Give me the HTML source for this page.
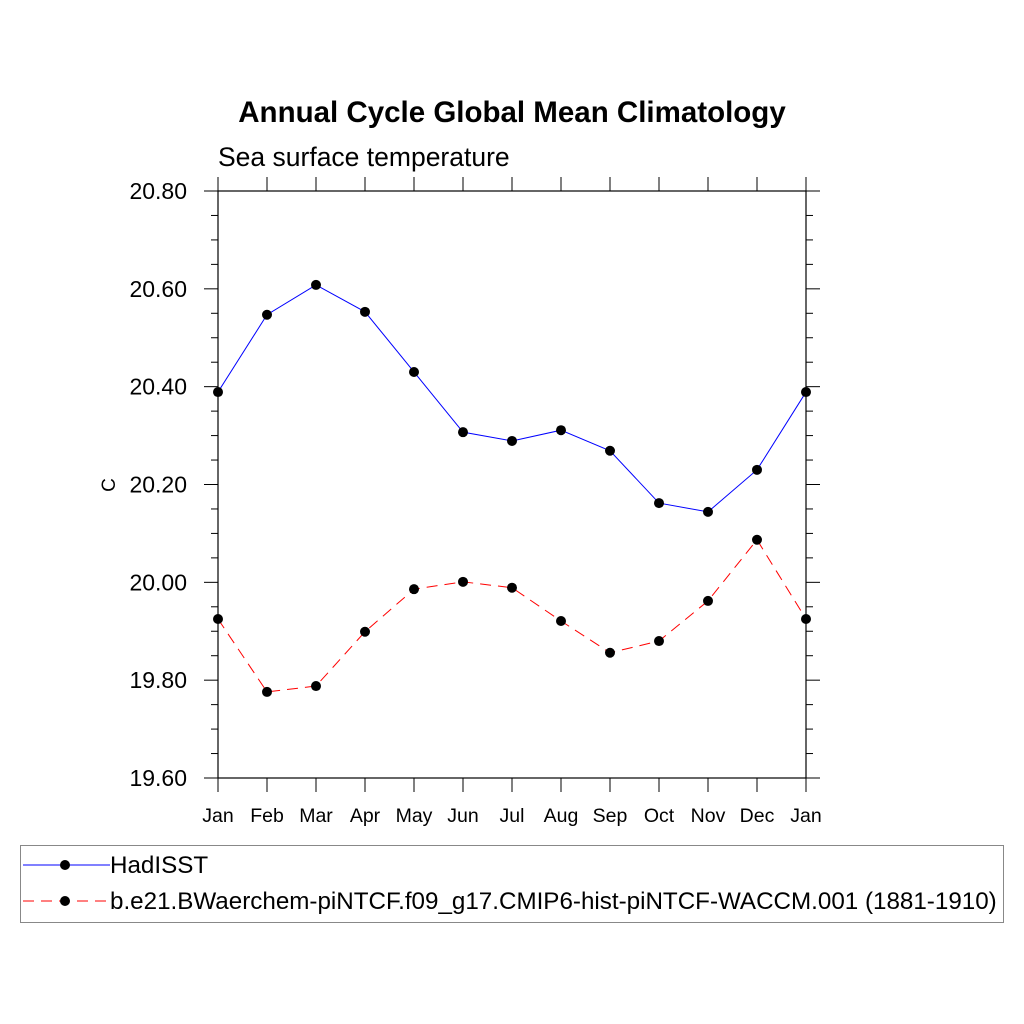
<!DOCTYPE html>
<html><head><meta charset="utf-8"><style>body{margin:0;background:#fff}svg{display:block}</style></head>
<body>
<svg id="chart" width="1024" height="1024" xmlns="http://www.w3.org/2000/svg" font-family="Liberation Sans, sans-serif">
<rect width="1024" height="1024" fill="#fff"/>
<text x="512" y="122" text-anchor="middle" font-size="29.5" font-weight="bold">Annual Cycle Global Mean Climatology</text>
<text x="218" y="166" font-size="26.5">Sea surface temperature</text>
<text transform="translate(115,485) rotate(-90)" text-anchor="middle" font-size="19">C</text>
<g id="axes"></g>
<g id="series"></g>
<g>
<rect x="20.5" y="845.5" width="983" height="77" fill="none" stroke="#888" stroke-width="1"/>
<line x1="23" y1="865" x2="110" y2="865" stroke="#0000ff" stroke-width="1"/>
<circle cx="65" cy="865" r="5" fill="#000"/>
<text x="110" y="873" font-size="24.2">HadISST</text>
<line x1="23" y1="901" x2="110" y2="901" stroke="#ff0000" stroke-width="1" stroke-dasharray="11,7"/>
<circle cx="65" cy="901" r="5" fill="#000"/>
<text x="110" y="909" font-size="24.2">b.e21.BWaerchem-piNTCF.f09_g17.CMIP6-hist-piNTCF-WACCM.001 (1881-1910)</text>
</g>
</svg>
<script>
const months = ["Jan","Feb","Mar","Apr","May","Jun","Jul","Aug","Sep","Oct","Nov","Dec","Jan"];
const hadisst = [20.389,20.547,20.608,20.553,20.430,20.307,20.289,20.311,20.269,20.162,20.144,20.230,20.389];
const model = [19.925,19.776,19.788,19.899,19.986,20.001,19.989,19.921,19.856,19.880,19.962,20.087,19.925];
const yTicks = [19.6,19.8,20.0,20.2,20.4,20.6,20.8];
const yTickLabels = ["19.60","19.80","20.00","20.20","20.40","20.60","20.80"];
const yMin = 19.6, yMax = 20.8;
const L=218, R=806, T=191, B=778;
const xs = i => L + i*(R-L)/(months.length-1);
const ys = v => B - (v-yMin)/(yMax-yMin)*(B-T);
const NS="http://www.w3.org/2000/svg";
function mk(tag, attrs, parent){const e=document.createElementNS(NS,tag);for(const k in attrs)e.setAttribute(k,attrs[k]);parent.appendChild(e);return e;}
const ax=document.getElementById('axes');
const frame=mk('rect',{x:L,y:T,width:R-L,height:B-T,fill:'none',stroke:'#000','stroke-width':1.2},ax);


for(let v=yMin; v<=yMax+1e-9; v+=0.05){
  const y=ys(v); const major=Math.abs(Math.round(v*5)-v*5)<1e-6; const len=major?14:7;
  mk('line',{x1:L-len,y1:y,x2:L,y2:y,stroke:'#000','stroke-width':1},ax);
  mk('line',{x1:R,y1:y,x2:R+len,y2:y,stroke:'#000','stroke-width':1},ax);
}
yTicks.forEach((v,i)=>{
  const t=mk('text',{x:L-31,y:ys(v)+8,'text-anchor':'end','font-size':23},ax);
  t.textContent=yTickLabels[i];
  
  
});
months.forEach((m,i)=>{
  const x=xs(i);
  mk('line',{x1:x,y1:B,x2:x,y2:B+14,stroke:'#000','stroke-width':1},ax);
  mk('line',{x1:x,y1:T-14,x2:x,y2:T,stroke:'#000','stroke-width':1},ax);
  const t=mk('text',{x:x,y:B+44,'text-anchor':'middle','font-size':19.5},ax);
  t.textContent=m;
  
  
});
const sg=document.getElementById('series');
function drawSeries(vals,color,dash,name){
  const p=mk('polyline',{points:vals.map((v,i)=>xs(i)+','+ys(v)).join(' '),fill:'none',stroke:color,'stroke-width':1,'stroke-dasharray':dash},sg);
  
  
  vals.forEach((v,i)=>{
    const c=mk('circle',{cx:xs(i),cy:ys(v),r:5,fill:'#000'},sg);
    
    
  });
}
drawSeries(hadisst,'#0000ff','none','hadisst');
drawSeries(model,'#ff0000','11,7','model');
</script>
</body></html>
